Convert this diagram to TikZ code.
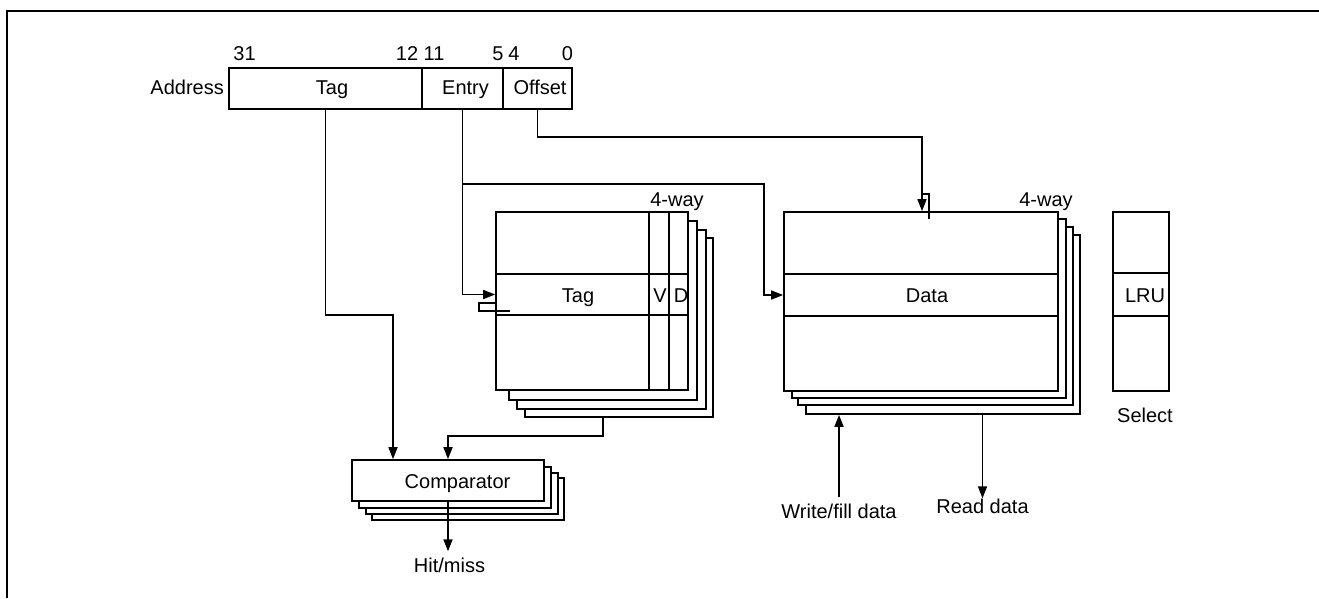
\documentclass[tikz,border=0pt]{standalone}
\usepackage{fontspec}
\setmainfont{Liberation Sans}
\usetikzlibrary{fit,arrows.meta}
\begin{document}
\begin{tikzpicture}[x=1pt,y=-1pt,
  box/.style={draw, line width=1.7pt, inner sep=0pt, fill=white},
  cell/.style={draw, line width=1.7pt, inner sep=0pt},
  txt/.style={inner sep=0pt, anchor=base},
  conn/.style={line width=1.6pt},
  arr/.style={conn, -{Triangle[length=12pt,width=9pt]}},
  font=\fontsize{20}{24}\selectfont]
\useasboundingbox (0,0) rectangle (1319,598);
\draw[line width=2.6pt] (7,598) -- (7,11) -- (1319,11);

% ---- address
\node[box, fit={(229,68) (422,109)}] (tagf) {};
\node[box, fit={(422,68) (503,109)}] (entf) {};
\node[box, fit={(503,68) (572,109)}] (offf) {};
\node[txt] (ltagf) at (332,94) {Tag};
\node[txt] (lentf) at (465.5,94) {Entry};
\node[txt] (lofff) at (540,94) {Offset};
\node[txt, anchor=base east] (laddr) at (224,94) {Address};
\node[txt] (n31) at (244.5,60) {31};
\node[txt] (n12) at (407,60) {12};
\node[txt] (n11) at (434,60) {11};
\node[txt] (n5) at (498,60) {5};
\node[txt] (n4) at (514,60) {4};
\node[txt] (n0) at (567.5,60) {0};

% ---- tag array
\node[box, fit={(525,238) (713,417)}] (tag4) {};
\node[box, fit={(517,230) (706,409)}] (tag3) {};
\node[box, fit={(509,221) (697,400)}] (tag2) {};
\node[box, fit={(496,212) (688,390)}] (tag1) {};
\node[cell, fit={(496,274) (688,315)}] (trow) {};
\node[cell, fit={(649,212) (669,390)}] (vcol) {};
\node[cell, fit={(669,212) (688,390)}] (dcol) {};
\node[txt] (ltrow) at (578,302) {Tag};
\node[txt] (lv) at (660,302) {V};
\node[txt] (ld) at (681,302) {D};
\node[txt] (lway1) at (677,206) {4-way};
\draw[conn] (496,303) -- (479,303) -- (479,311) -- (510,311);

% ---- data array
\node[box, fit={(806,235) (1080,414)}] (dat4) {};
\node[box, fit={(798,227) (1073,405)}] (dat3) {};
\node[box, fit={(792,219) (1066,398)}] (dat2) {};
\node[box, fit={(784,212) (1058,391)}] (dat1) {};
\node[cell, fit={(784,274) (1058,316)}] (drow) {};
\node[txt] (ldrow) at (927,302) {Data};
\node[txt] (lway2) at (1046,206) {4-way};
\draw[conn] (922,194) -- (929,194) -- (929,219);

% ---- LRU
\node[box, fit={(1113,212) (1169,391)}] (lru) {};
\node[cell, fit={(1113,273) (1169,316)}] (lrow) {};
\node[txt] (llru) at (1145,302) {LRU};
\node[txt] (lsel) at (1145,422) {Select};

% ---- comparator
\node[box, fit={(372,478) (564,520)}] (cmp4) {};
\node[box, fit={(366,473) (558,514)}] (cmp3) {};
\node[box, fit={(359,467) (551,508)}] (cmp2) {};
\node[box, fit={(352,460) (544,501)}] (cmp1) {};
\node[txt] (lcmp) at (457.5,488) {Comparator};

% ---- labels of free ends
\node[txt] (hm) at (449.5,572) {Hit/miss};
\node[txt] (rd) at (982.5,513) {Read data};
\node[txt] (wf) at (839,518) {Write/fill data};

% ---- connectors
\coordinate (b1) at (393,315);
\draw[arr] (tagf.south) |- (b1) -- (b1 |- cmp1.north);

\coordinate (e1) at (764,184);
\draw[arr] (entf.south) |- (trow.west);
\draw[arr] (entf.south |- e1) -- (e1) |- (drow.west);

\coordinate (o1) at (922,137);
\draw[arr] (offf.south) |- (o1) -- (o1 |- dat1.north);

\coordinate (t1) at (603,436);
\coordinate (c2) at (448,436);
\draw[arr] (tag4.south -| t1) -- (t1) -- (c2) -- (c2 |- cmp1.north);

\draw[arr, shorten >=6pt] (cmp1.south) -- (cmp1.south |- hm.north);
\draw[arr] (rd.north |- dat4.south) -- (rd.north);
\draw[arr, shorten <=6pt] (wf.north) -- (wf.north |- dat4.south);
\end{tikzpicture}
\end{document}
